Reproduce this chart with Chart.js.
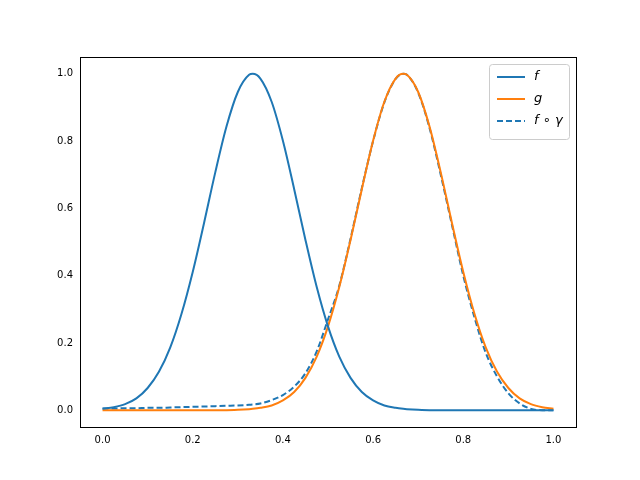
<!DOCTYPE html>
<html><head><meta charset="utf-8">
<script src="https://cdn.jsdelivr.net/npm/chart.js@4/dist/chart.umd.min.js"></script>
<style>body{margin:0;background:#fff}</style>
</head><body>
<canvas id="c" width="640" height="480"></canvas>
<script>
var xs = [0,0.025,0.05,0.075,0.1,0.125,0.15,0.175,0.2,0.225,0.25,0.275,0.3,0.325,0.333,0.35,0.375,0.4,0.425,0.45,0.475,0.5,0.525,0.55,0.575,0.6,0.625,0.65,0.667,0.675,0.7,0.725,0.75,0.775,0.8,0.825,0.85,0.875,0.9,0.925,0.95,0.975,1];
var fVals = [0.004,0.009,0.018,0.035,0.066,0.114,0.186,0.286,0.411,0.556,0.707,0.844,0.946,0.997,1,0.986,0.917,0.801,0.657,0.506,0.366,0.249,0.159,0.096,0.054,0.029,0.014,0.007,0.004,0.003,0.001,0,0,0,0,0,0,0,0,0,0,0,0];
var gVals = [0,0,0,0,0,0,0,0,0,0,0,0,0.001,0.003,0.004,0.007,0.014,0.029,0.054,0.096,0.159,0.249,0.366,0.506,0.657,0.801,0.917,0.986,1,0.997,0.946,0.844,0.707,0.556,0.411,0.286,0.186,0.114,0.066,0.035,0.018,0.009,0.004];
var fgVals = [0.005,0.005,0.006,0.006,0.007,0.007,0.008,0.009,0.010,0.011,0.012,0.013,0.014,0.016,0.017,0.020,0.030,0.045,0.070,0.110,0.175,0.270,0.370,0.510,0.660,0.800,0.915,0.985,1,0.997,0.944,0.840,0.700,0.550,0.400,0.275,0.170,0.100,0.050,0.020,0.004,0,0];
var xTicks = [0,0.2,0.4,0.6,0.8,1.0];
var yTicks = [0,0.2,0.4,0.6,0.8,1.0];
var labels = ['f','g','f \u2218 \u03B3'];

function pts(v){ return xs.map(function(x,i){ return {x:x, y:v[i]}; }); }

var frame = {
  id:'frame',
  afterDraw:function(ch){
    var c=ch.ctx, a=ch.chartArea;
    c.save();
    c.strokeStyle='#000'; c.lineWidth=1;
    c.strokeRect(Math.round(a.left)+0.5,Math.round(a.top)+0.5,Math.round(a.right-a.left),Math.round(a.bottom-a.top));
    var bx=489, by=64, bw=80, bh=75;
    c.fillStyle='rgba(255,255,255,0.8)'; c.strokeStyle='#ccc';
    c.beginPath(); c.roundRect(bx+0.5,by+0.5,bw,bh,3); c.fill(); c.stroke();
    var ds=ch.data.datasets;
    c.font='italic 13px "DejaVu Sans"'; c.textBaseline='middle';
    for(var i=0;i<ds.length;i++){
      var yy=by+13+i*22;
      c.strokeStyle=ds[i].borderColor; c.lineWidth=2;
      c.setLineDash(ds[i].borderDash||[]);
      c.beginPath(); c.moveTo(bx+8,yy); c.lineTo(bx+36,yy); c.stroke();
      c.setLineDash([]);
      c.fillStyle='#000'; c.fillText(labels[i],bx+45,yy);
    }
    c.restore();
  }
};

new Chart(document.getElementById('c'),{
  type:'line',
  data:{datasets:[
    {data:pts(fVals),borderColor:'#1f77b4',borderWidth:2,pointRadius:0,cubicInterpolationMode:'monotone'},
    {data:pts(gVals),borderColor:'#ff7f0e',borderWidth:2,pointRadius:0,cubicInterpolationMode:'monotone'},
    {data:pts(fgVals),borderColor:'#1f77b4',borderWidth:2,borderDash:[6,3],pointRadius:0,cubicInterpolationMode:'monotone'}
  ]},
  options:{
    responsive:false,animation:false,
    layout:{padding:{top:57,right:64,left:0,bottom:0}},
    plugins:{legend:{display:false},tooltip:{enabled:false}},
    scales:{
      x:{type:'linear',min:-0.05,max:1.05,
        afterBuildTicks:function(s){s.ticks=xTicks.map(function(v){return {value:v};});},
        afterFit:function(s){s.height=53;},
        grid:{display:false,drawTicks:true,tickLength:4},border:{display:false},
        ticks:{color:'#000',font:{family:'DejaVu Sans',size:10},maxRotation:0,callback:function(v){return v.toFixed(1);}}},
      y:{type:'linear',min:-0.05,max:1.05,
        afterBuildTicks:function(s){s.ticks=yTicks.map(function(v){return {value:v};});},
        afterFit:function(s){s.width=80;},
        grid:{display:false,drawTicks:true,tickLength:4},border:{display:false},
        ticks:{color:'#000',font:{family:'DejaVu Sans',size:10},callback:function(v){return v.toFixed(1);}}}
    }
  },
  plugins:[frame]
});
</script>
</body></html>
